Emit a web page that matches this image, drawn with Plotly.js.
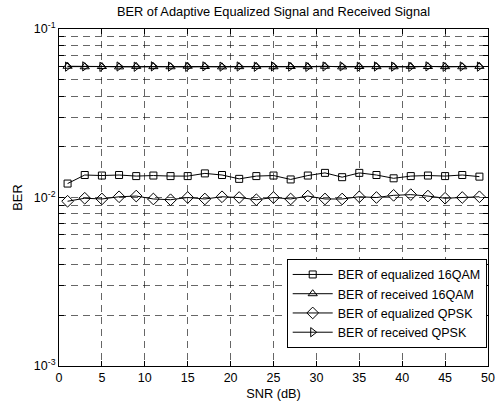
<!DOCTYPE html>
<html>
<head>
<meta charset="utf-8">
<script src="https://cdn.plot.ly/plotly-3.0.1.min.js"></script>
<style>
  html, body { margin: 0; padding: 0; background: #fff; }
  #chart { width: 500px; height: 403px; }
</style>
</head>
<body>
<div id="chart"></div>
<script>
// SNR sample points (dB)
const snr = [1, 3, 5, 7, 9, 11, 13, 15, 17, 19, 21, 23, 25, 27, 29, 31, 33, 35, 37, 39, 41, 43, 45, 47, 49];

// Bit error rates per scheme
const berEq16qam = [0.0121, 0.0136, 0.0135, 0.0136, 0.0134, 0.0135, 0.0134, 0.0134, 0.0139, 0.0136,
                    0.0129, 0.0134, 0.0135, 0.0128, 0.0135, 0.0140, 0.0132, 0.0140, 0.0136, 0.0130,
                    0.0134, 0.0135, 0.0134, 0.0136, 0.0133];
const berRx16qam = [0.0601, 0.0597, 0.0599, 0.0596, 0.0600, 0.0598, 0.0597, 0.0601, 0.0599, 0.0596,
                    0.0598, 0.0600, 0.0597, 0.0599, 0.0598, 0.0601, 0.0596, 0.0599, 0.0598, 0.0597,
                    0.0600, 0.0599, 0.0598, 0.0597, 0.0600];
const berEqQpsk = [0.0095, 0.0099, 0.0098, 0.0101, 0.0102, 0.0098, 0.0097, 0.0100, 0.0098, 0.0101,
                   0.0100, 0.0097, 0.0100, 0.0098, 0.0102, 0.0098, 0.0098, 0.0101, 0.0100, 0.0103,
                   0.0104, 0.0102, 0.0099, 0.0100, 0.0101];
const berRxQpsk = [0.0598, 0.0600, 0.0596, 0.0599, 0.0597, 0.0600, 0.0598, 0.0596, 0.0600, 0.0598,
                   0.0599, 0.0597, 0.0600, 0.0598, 0.0596, 0.0599, 0.0600, 0.0597, 0.0599, 0.0598,
                   0.0596, 0.0600, 0.0597, 0.0599, 0.0598];

const seriesNames = ['BER of equalized 16QAM', 'BER of received 16QAM', 'BER of equalized QPSK', 'BER of received QPSK'];

// Log-axis ticks: every digit of each decade gets a tick and a gridline, decades get labels
const yTickVals = [0.001, 0.002, 0.003, 0.004, 0.005, 0.006, 0.007, 0.008, 0.009,
                   0.01, 0.02, 0.03, 0.04, 0.05, 0.06, 0.07, 0.08, 0.09, 0.1];
const yTickText = ['10<sup>-3</sup>', '', '', '', '', '', '', '', '',
                   '10<sup>-2</sup>', '', '', '', '', '', '', '', '', '10<sup>-1</sup>'];
const xTickVals = [0, 5, 10, 15, 20, 25, 30, 35, 40, 45, 50];

const FONT = 'Liberation Sans, Arial, sans-serif';

// Hollow black markers joined by a thin black line
function series(y, name, symbol, size) {
  return {
    x: snr, y: y, name: name, type: 'scatter', mode: 'lines+markers',
    line: { color: '#000', width: 1 },
    marker: { symbol: symbol, size: size, color: '#000', line: { color: '#000', width: 1 } }
  };
}

const data = [
  series(berEq16qam, seriesNames[0], 'square-open', 7),
  series(berRx16qam, seriesNames[1], 'triangle-up-open', 8),
  series(berEqQpsk, seriesNames[2], 'diamond-open', 9),
  series(berRxQpsk, seriesNames[3], 'triangle-right-open', 8)
];

const gridStyle = { gridcolor: 'rgba(0,0,0,0.75)', gridwidth: 0.8, griddash: '7px,5px' };

const layout = {
  width: 500, height: 403,
  margin: { l: 59, r: 12, t: 29, b: 37 },
  paper_bgcolor: '#fff', plot_bgcolor: '#fff',
  font: { family: FONT, size: 12.5, color: '#000' },
  title: {
    text: 'BER of Adaptive Equalized Signal and Received Signal',
    font: { family: FONT, size: 12.8, color: '#000' },
    x: 0.5, xref: 'paper', y: 1 - 12 / 403, yref: 'container', yanchor: 'middle'
  },
  xaxis: Object.assign({
    range: [0, 50], tickvals: xTickVals, ticks: 'inside', ticklen: 5, tickcolor: '#000',
    showline: true, linecolor: '#000', linewidth: 1, mirror: 'ticks', zeroline: false,
    tickfont: { family: FONT, size: 12.5 },
    title: { text: 'SNR (dB)', font: { family: FONT, size: 12.8 }, standoff: 5 }
  }, gridStyle),
  yaxis: Object.assign({
    type: 'log', range: [-3, -1], tickvals: yTickVals, ticktext: yTickText,
    ticks: 'inside', ticklen: 5, tickcolor: '#000',
    showline: true, linecolor: '#000', linewidth: 1, mirror: 'ticks', zeroline: false,
    tickfont: { family: FONT, size: 12.5 },
    title: { text: 'BER', font: { family: FONT, size: 12.8 }, standoff: 8 }
  }, gridStyle),
  showlegend: true,
  legend: {
    x: 0.997, xanchor: 'right', y: 0.318, yanchor: 'top',
    bgcolor: '#fff', bordercolor: '#000', borderwidth: 1,
    font: { family: FONT, size: 12.5, color: '#000' },
    itemwidth: 40, tracegroupgap: 0
  }
};

Plotly.newPlot('chart', data, layout, { staticPlot: true, displayModeBar: false });
</script>
</body>
</html>
